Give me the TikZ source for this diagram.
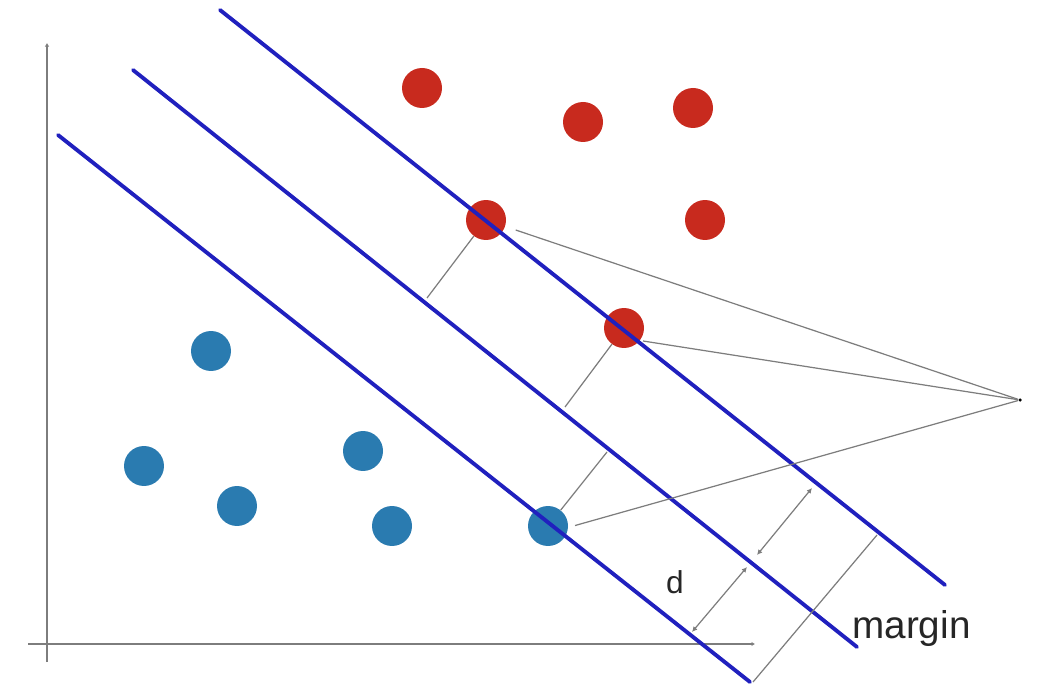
\documentclass[tikz,border=0pt]{standalone}
\usepackage{fontspec}
\setmainfont{Liberation Sans}
\usetikzlibrary{arrows.meta}
\definecolor{dotred}{RGB}{200,42,30}
\definecolor{dotblue}{RGB}{42,123,176}
\definecolor{lineblue}{RGB}{32,32,190}
\definecolor{axisgray}{RGB}{125,125,125}

\begin{document}
\begin{tikzpicture}[x=0.02cm,y=-0.02cm,
	red_node/.style={circle,fill=dotred,inner sep=0pt,minimum size=0.8cm},
	blue_node/.style={circle,fill=dotblue,inner sep=0pt,minimum size=0.8cm},
	thin_line/.style={draw=axisgray,line width=0.7pt},
	sep_line/.style={draw=lineblue,line width=2.2pt}]
	\useasboundingbox (0,0) rectangle (1050,685);
	\coordinate (o1) at (47,662);
	\coordinate (o2) at (47,43);
	\coordinate (o3) at (28,644);
	\coordinate (o4) at (755,644);
	\draw[thin_line,-{Latex[length=2pt,width=2.5pt]}] (o1) -- (o2);
	\draw[thin_line,-{Latex[length=2pt,width=2.5pt]}] (o3) -- (o4);
	\node[red_node] (r1) at (422,88) {};
	\node[red_node] (r2) at (583,122) {};
	\node[red_node] (r3) at (693,108) {};
	\node[red_node] (r4) at (486,220) {};
	\node[red_node] (r5) at (705,220) {};
	\node[red_node] (r6) at (624,328) {};
	\node[blue_node] (b1) at (211,351) {};
	\node[blue_node] (b2) at (144,466) {};
	\node[blue_node] (b3) at (237,506) {};
	\node[blue_node] (b4) at (363,451) {};
	\node[blue_node] (b5) at (392,526) {};
	\node[blue_node] (b6) at (548,526) {};
	\node[circle,fill=black,inner sep=0pt,minimum size=0.07cm] (p) at (1020,400) {};
	\coordinate (t1) at (220,10);
	\coordinate (t2) at (945,585);
	\coordinate (m1) at (133,70);
	\coordinate (m2) at (857,647);
	\coordinate (u1) at (58,135);
	\coordinate (u2) at (750,682);
	\draw[sep_line,line cap=round] (t1) -- (t2);
	\draw[sep_line,line cap=round] (m1) -- (m2);
	\draw[sep_line,line cap=round] (u1) -- (u2);
	\coordinate (f1) at (427,298);
	\coordinate (f2) at (565,407);
	\coordinate (f3) at (607,452);
	\draw[thin_line] (r4) -- (f1);
	\draw[thin_line] (r6) -- (f2);
	\draw[thin_line] (f3) -- (b6);
	\draw[thin_line,shorten <=0.22cm] (r4) -- (p);
	\draw[thin_line,shorten <=0.06cm] (r6.-38) -- (p);
	\draw[thin_line,shorten <=0.14cm] (b6.-4) -- (p);
	\coordinate (d1) at (692,632);
	\coordinate (d2) at (747,567);
	\coordinate (d3) at (757,555);
	\coordinate (d4) at (812,488);
	\coordinate (g1) at (753,682);
	\coordinate (g2) at (877,535);
	\draw[thin_line,{Latex[length=3pt,width=3pt]}-{Latex[length=3pt,width=3pt]}] (d1) -- (d2);
	\draw[thin_line,{Latex[length=3pt,width=3pt]}-{Latex[length=3pt,width=3pt]}] (d3) -- (d4);
	\draw[thin_line] (g1) -- (g2);
	\node[font=\fontsize{18}{20}\selectfont,text=black!85] (d) at (675,582) {d};
	\node[font=\fontsize{22}{24}\selectfont,text=black!85,anchor=base west,inner sep=0pt] (margin) at (852,638) {margin};
\end{tikzpicture}
\end{document}
